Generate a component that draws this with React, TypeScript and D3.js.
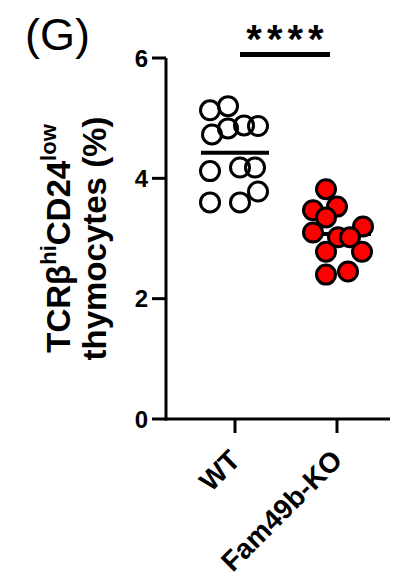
import React from "react";
import * as d3 from "d3";

const GROUPS = ["WT", "Fam49b-KO"];
const WT_VALUES = [5.2, 5.13, 4.83, 4.88, 4.87, 4.73, 4.18, 4.18, 4.12, 3.78, 3.6, 3.6];
const WT_JITTER = [-7, -25, -7, 9, 23, -23, 5, 20, -25, 23, -25, 5];
const KO_VALUES = [3.82, 3.53, 3.47, 3.35, 3.2, 3.1, 3.02, 3.02, 2.78, 2.78, 2.45, 2.4];
const KO_JITTER = [-11, 0, -24, -11, 26, -24, 1, 13, 25, -11, 11, -11];
const Y_TICKS = [0, 2, 4, 6];

const FONT = "'Liberation Sans', Arial, Helvetica, sans-serif";

function translate(x: number, y: number) {
  return `translate(${x}, ${y})`;
}

const App = () => {
  const width = 398;
  const height = 579;
  const y = d3.scaleLinear().domain([0, 6]).range([419, 58]);
  const x = d3.scaleBand().domain(GROUPS).range([184, 388]).padding(0);
  const cx = (g: string) => (x(g) as number) + x.bandwidth() / 2;
  const axisX = 166;
  const r = 9.5;

  const groups = [
    { name: GROUPS[0], values: WT_VALUES, jitter: WT_JITTER, fill: "none" },
    { name: GROUPS[1], values: KO_VALUES, jitter: KO_JITTER, fill: "#ff0000" },
  ];

  return (
    <div style={{ position: "absolute", left: 0, top: 0 }}>
      <svg width={width} height={height} style={{ display: "block" }} fontFamily={FONT}>
        <rect width={width} height={height} fill="#fff" />
        <text x={25} y={50} fontSize={45}>
          (G)
        </text>

        {/* y axis */}
        <line x1={axisX} x2={axisX} y1={y(6)} y2={y(0) + 1.5} stroke="#000" strokeWidth={3} />
        {Y_TICKS.map((t) => (
          <g key={t} transform={translate(0, y(t))}>
            <line x1={axisX - 14} x2={axisX} stroke="#000" strokeWidth={3} />
            <text x={axisX - 18} dy="0.36em" textAnchor="end" fontSize={24} fontWeight="bold">
              {t}
            </text>
          </g>
        ))}

        {/* x axis */}
        <line x1={axisX - 1.5} x2={390} y1={y(0)} y2={y(0)} stroke="#000" strokeWidth={3} />
        {GROUPS.map((g) => (
          <g key={g} transform={translate(cx(g), y(0))}>
            <line y1={0} y2={14} stroke="#000" strokeWidth={3} />
            <text
              transform="translate(-7, 29) rotate(-45)"
              textAnchor="end"
              dy="0.7em"
              fontSize={28}
              fontWeight="bold"
            >
              {g}
            </text>
          </g>
        ))}

        {/* y label */}
        <g transform={translate(70, y(3))}>
          <text transform="rotate(-90)" textAnchor="middle" fontSize={33} fontWeight="bold">
            TCRβ<tspan fontSize={22} dy={-14}>hi</tspan>
            <tspan dy={14}>CD24</tspan>
            <tspan fontSize={22} dy={-14}>low</tspan>
          </text>
          <text transform="translate(36, 0) rotate(-90)" textAnchor="middle" fontSize={33} fontWeight="bold">
            thymocytes (%)
          </text>
        </g>

        {/* means and points */}
        {groups.map((gr) => {
          const mean = d3.mean(gr.values) as number;
          const c = cx(gr.name);
          return (
            <g key={gr.name}>
              <line x1={c - 34} x2={c + 34} y1={y(mean)} y2={y(mean)} stroke="#000" strokeWidth={4} />
              {gr.values.map((v, i) => (
                <circle
                  key={i}
                  cx={c + gr.jitter[i]}
                  cy={y(v)}
                  r={r}
                  fill={gr.fill}
                  stroke="#000"
                  strokeWidth={3}
                />
              ))}
            </g>
          );
        })}

        {/* significance */}
        <line x1={240} x2={330} y1={54.5} y2={54.5} stroke="#000" strokeWidth={5} />
        <text x={287.5} y={53} textAnchor="middle" fontSize={40} fontWeight="bold" letterSpacing={5}>
          ****
        </text>
      </svg>
    </div>
  );
};

export default App;
